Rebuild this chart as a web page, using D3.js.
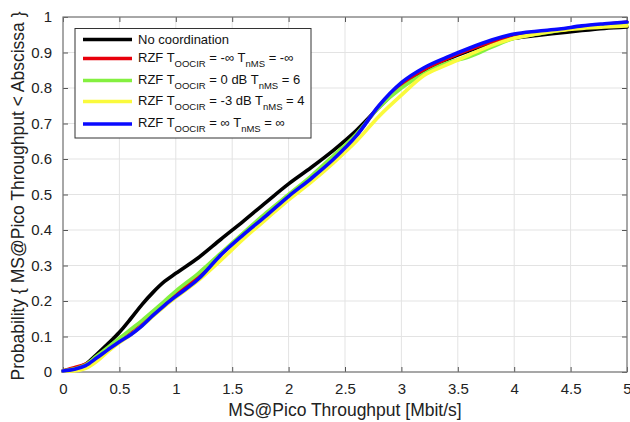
<!DOCTYPE html>
<html><head><meta charset="utf-8">
<script src="https://cdn.jsdelivr.net/npm/d3@7/dist/d3.min.js"></script>
<style>body{margin:0;background:#fff}svg{display:block;font-family:"Liberation Sans",Arial,sans-serif}</style>
</head><body><svg id="c" width="630" height="422"></svg>
<script>
const xs = [0,0.1,0.2,0.3,0.4,0.5,0.6,0.7,0.8,0.9,1.0,1.2,1.4,1.6,1.8,2.0,2.2,2.4,2.6,2.8,3.0,3.2,3.4,3.6,3.8,4.0,4.2,4.4,4.6,4.8,5.0];
const noCoord = [0.003,0.01,0.022,0.05,0.08,0.112,0.15,0.19,0.225,0.255,0.278,0.322,0.374,0.425,0.478,0.53,0.576,0.625,0.68,0.745,0.805,0.85,0.88,0.905,0.925,0.94,0.948,0.955,0.962,0.968,0.972];
const rzfNegInf = [0.003,0.012,0.022,0.04,0.066,0.09,0.113,0.138,0.166,0.194,0.22,0.27,0.332,0.39,0.444,0.497,0.548,0.604,0.667,0.748,0.81,0.852,0.882,0.908,0.93,0.948,0.957,0.964,0.973,0.979,0.985];
const rzf0dB = [0.003,0.009,0.02,0.045,0.07,0.095,0.12,0.145,0.172,0.2,0.228,0.278,0.335,0.392,0.448,0.5,0.552,0.61,0.67,0.745,0.8,0.84,0.87,0.888,0.915,0.94,0.952,0.962,0.972,0.978,0.984];
const rzfNeg3dB = [0.002,0.003,0.01,0.03,0.058,0.083,0.105,0.13,0.158,0.185,0.21,0.258,0.315,0.375,0.43,0.485,0.535,0.59,0.65,0.72,0.78,0.835,0.865,0.893,0.92,0.94,0.952,0.962,0.968,0.972,0.975];
const rzfInf = [0.003,0.008,0.018,0.04,0.063,0.085,0.105,0.13,0.16,0.188,0.213,0.262,0.33,0.387,0.44,0.495,0.545,0.6,0.665,0.75,0.815,0.857,0.886,0.912,0.935,0.952,0.96,0.966,0.975,0.981,0.986];
const xTicks = [0,0.5,1,1.5,2,2.5,3,3.5,4,4.5,5];
const yTicks = [0,0.1,0.2,0.3,0.4,0.5,0.6,0.7,0.8,0.9,1];
const xTitle = "MS@Pico Throughput [Mbit/s]";
const yTitle = "Probability { MS@Pico Throughput < Abscissa }";
const series = [
  {name:"No coordination", values:noCoord, color:"#000000"},
  {name:["RZF T","OOCIR"," = -∞ T","nMS"," = -∞"], values:rzfNegInf, color:"#e8000b"},
  {name:["RZF T","OOCIR"," = 0 dB T","nMS"," = 6"], values:rzf0dB, color:"#84f040"},
  {name:["RZF T","OOCIR"," = -3 dB T","nMS"," = 4"], values:rzfNeg3dB, color:"#fafa3c"},
  {name:["RZF T","OOCIR"," = ∞ T","nMS"," = ∞"], values:rzfInf, color:"#0a0aff"}
];

const svg = d3.select("#c");
const L=63, R=627, T=17, B=372;
const x = d3.scaleLinear().domain([0,5]).range([L,R]);
const y = d3.scaleLinear().domain([0,1]).range([B,T]);

// grid
const g = svg.append("g");
g.selectAll(".gx").data(xTicks).join("line").attr("x1",d=>x(d)).attr("x2",d=>x(d)).attr("y1",T).attr("y2",B).attr("stroke","#e3e3e3").attr("stroke-width",1);
g.selectAll(".gy").data(yTicks).join("line").attr("y1",d=>y(d)).attr("y2",d=>y(d)).attr("x1",L).attr("x2",R).attr("stroke","#e3e3e3").attr("stroke-width",1);

// axes
const ax = svg.append("g").attr("transform",`translate(0,${B})`).call(d3.axisBottom(x).tickValues(xTicks).tickSizeInner(-5).tickSizeOuter(0).tickPadding(11).tickFormat(d3.format("~g")));
const axT = svg.append("g").attr("transform",`translate(0,${T})`).call(d3.axisTop(x).tickValues(xTicks).tickSizeInner(-5).tickSizeOuter(0).tickFormat(""));
const ay = svg.append("g").attr("transform",`translate(${L},0)`).call(d3.axisLeft(y).tickValues(yTicks).tickSizeInner(-5).tickSizeOuter(0).tickPadding(11).tickFormat(d3.format("~g")));
const ayR = svg.append("g").attr("transform",`translate(${R},0)`).call(d3.axisRight(y).tickValues(yTicks).tickSizeInner(-5).tickSizeOuter(0).tickFormat(""));
[ax,axT,ay,ayR].forEach(a=>{
  a.select(".domain").remove();
  a.selectAll(".tick line").attr("stroke","#555");
  a.selectAll("text").attr("font-size",15).attr("fill","#222").attr("font-family","Liberation Sans, Arial, sans-serif");
});
svg.append("rect").attr("x",L).attr("y",T).attr("width",R-L).attr("height",B-T).attr("fill","none").attr("stroke","#777").attr("stroke-width",1.2);

// lines
const line = d3.line().x((d,i)=>x(xs[i])).y(d=>y(d)).curve(d3.curveMonotoneX);
svg.append("g").selectAll("path").data(series).join("path")
  .attr("d",d=>line(d.values)).attr("fill","none").attr("stroke",d=>d.color).attr("stroke-width",3.6).attr("stroke-linejoin","round").attr("stroke-linecap","round");

// titles
svg.append("text").attr("x",(L+R)/2).attr("y",416).attr("text-anchor","middle").attr("font-size",17.5).attr("fill","#222").text(xTitle);
svg.append("text").attr("transform",`translate(24,${196}) rotate(-90)`).attr("text-anchor","middle").attr("font-size",17.5).attr("fill","#222").text(yTitle);

// legend
const lg = svg.append("g");
lg.append("rect").attr("x",75).attr("y",28.5).attr("width",236).attr("height",109.5).attr("fill","#fff").attr("stroke","#333").attr("stroke-width",1);
const rowY = [39.5,58.5,80.5,101.5,124];
series.forEach((s,i)=>{
  const yy = rowY[i];
  lg.append("line").attr("x1",83).attr("x2",132).attr("y1",yy).attr("y2",yy).attr("stroke",s.color).attr("stroke-width",3.6);
  const t = lg.append("text").attr("x",138).attr("y",yy+ (i===0?4.5:3)).attr("font-size",13).attr("fill","#111");
  if (typeof s.name === "string") { t.text(s.name); }
  else {
    s.name.forEach((part,j)=>{
      const sub = j%2===1;
      t.append("tspan").attr("font-size",sub?9.5:13).attr("dy",sub?5:(j>0?-5:0)).text(part);
    });
  }
});
</script></body></html>
